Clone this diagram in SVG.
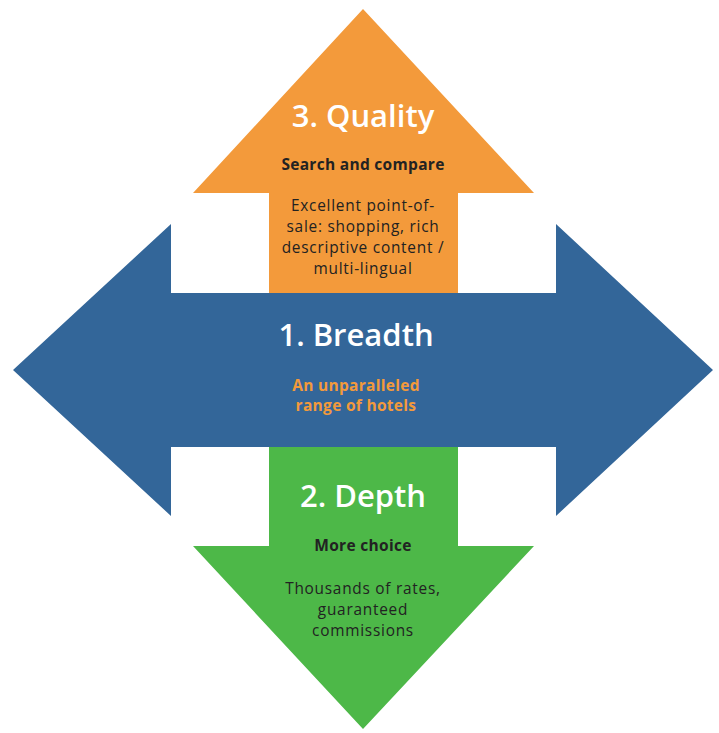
<svg xmlns="http://www.w3.org/2000/svg" width="719" height="733" viewBox="0 0 719 733">
<style>
.t{font-family:"Open Sans","Noto Sans",sans-serif;text-anchor:middle}
.h{font-size:31px;font-weight:600;fill:#ffffff}
.s{font-size:15.5px;font-weight:700;fill:#222222;letter-spacing:0.3px}
.b{font-size:15.4px;font-weight:400;fill:#222222;letter-spacing:0.75px}
.o{font-size:15.5px;font-weight:700;fill:#F39A3B;letter-spacing:0.3px}
</style>
<rect width="719" height="733" fill="#ffffff"/>
<g id="quality">
<polygon points="363,9 534,193 458,193 458,300 269,300 269,193 193,193" fill="#F39A3B"/>
<text class="t h" x="363" y="127">3. Quality</text>
<text class="t s" x="363" y="170">Search and compare</text>
<text class="t b" x="363" y="211">Excellent point-of-</text>
<text class="t b" x="363" y="232">sale: shopping, rich</text>
<text class="t b" x="363" y="253">descriptive content /</text>
<text class="t b" x="363" y="274">multi-lingual</text>
</g>
<g id="depth">
<polygon points="269,440 458,440 458,546 534,546 363,729 193,546 269,546" fill="#4DB848"/>
<text class="t h" x="363" y="507">2. Depth</text>
<text class="t s" x="363" y="551">More choice</text>
<text class="t b" x="363" y="594">Thousands of rates,</text>
<text class="t b" x="363" y="615">guaranteed</text>
<text class="t b" x="363" y="636">commissions</text>
</g>
<g id="breadth">
<polygon points="13,370 171,224 171,293 556,293 556,224 713,370 556,516 556,447 171,447 171,516" fill="#336699"/>
<text class="t h" x="356" y="346">1. Breadth</text>
<text class="t o" x="356" y="391">An unparalleled</text>
<text class="t o" x="356" y="411">range of hotels</text>
</g>
<g id="connectors"/>
</svg>
